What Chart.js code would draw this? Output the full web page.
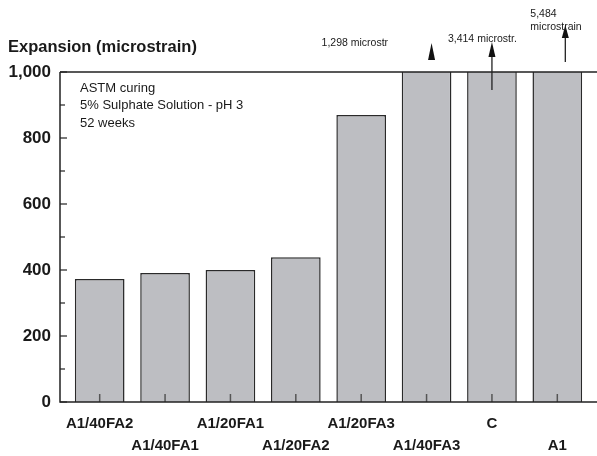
<!DOCTYPE html>
<html>
<head>
<meta charset="utf-8">
<script src="https://cdn.jsdelivr.net/npm/chart.js@4/dist/chart.umd.min.js"></script>
<style>
  html, body { margin: 0; padding: 0; background: #fff; }
  #wrap { width: 597px; height: 456px; }
</style>
</head>
<body>
<div id="wrap"><canvas id="chart" width="597" height="456"></canvas></div>
<script>
// data
const categories = ['A1/40FA2', 'A1/40FA1', 'A1/20FA1', 'A1/20FA2', 'A1/20FA3', 'A1/40FA3', 'C', 'A1'];
const expansion = [373, 391, 400, 439, 870, 1298, 3414, 5484];
const yTicks = [0, 200, 400, 600, 800, 1000];
const notes = ['ASTM curing', '5% Sulphate Solution - pH 3', '52 weeks'];

const FONT = '"Liberation Sans", Arial, sans-serif';
const INK = '#1a1a1a';

// axis frame, small ticks, title, notes and off-scale arrows
const decor = {
  id: 'decor',
  afterDatasetsDraw(chart) {
    const { ctx, chartArea: a, scales: { x, y } } = chart;
    const left = a.left - 7, right = chart.width;
    ctx.save();

    // category ticks inside the bars
    ctx.strokeStyle = '#555';
    ctx.lineWidth = 1.5;
    categories.forEach((c, i) => {
      const px = x.getPixelForTick(i);
      ctx.beginPath();
      ctx.moveTo(px, a.bottom);
      ctx.lineTo(px, a.bottom - 8);
      ctx.stroke();
    });

    // frame
    ctx.strokeStyle = '#222';
    ctx.lineWidth = 1.5;
    ctx.beginPath();
    ctx.moveTo(left, a.top);
    ctx.lineTo(right, a.top);
    ctx.moveTo(left, a.top);
    ctx.lineTo(left, a.bottom);
    ctx.lineTo(right, a.bottom);
    ctx.stroke();

    // y ticks, major and minor
    ctx.lineWidth = 1.2;
    yTicks.forEach((v, i) => {
      const py = y.getPixelForValue(v);
      ctx.beginPath();
      ctx.moveTo(left, py);
      ctx.lineTo(left + 7, py);
      ctx.stroke();
      if (i > 0) {
        const pm = y.getPixelForValue((v + yTicks[i - 1]) / 2);
        ctx.beginPath();
        ctx.moveTo(left, pm);
        ctx.lineTo(left + 5, pm);
        ctx.stroke();
      }
    });

    // axis title
    ctx.fillStyle = INK;
    ctx.textBaseline = 'middle';
    ctx.textAlign = 'left';
    ctx.font = 'bold 16.5px ' + FONT;
    ctx.fillText('Expansion (microstrain)', 8, a.top - 25);

    // condition notes
    ctx.font = '13px ' + FONT;
    notes.forEach((t, i) => ctx.fillText(t, a.left + 13, a.top + 16 + i * 17.5));

    // bars running off the scale
    const top = y.getPixelForValue(y.max);
    const arrow = (px, tip, headBase, tail) => {
      ctx.strokeStyle = '#222';
      ctx.lineWidth = 1.3;
      if (tail > headBase) {
        ctx.beginPath();
        ctx.moveTo(px, headBase);
        ctx.lineTo(px, tail);
        ctx.stroke();
      }
      ctx.fillStyle = '#111';
      ctx.beginPath();
      ctx.moveTo(px, tip);
      ctx.lineTo(px - 3.5, headBase);
      ctx.lineTo(px + 3.5, headBase);
      ctx.closePath();
      ctx.fill();
    };
    const fmt = v => v.toLocaleString('en-US');
    ctx.font = '10.5px ' + FONT;
    ctx.fillStyle = INK;

    let cx = x.getPixelForValue(5);
    arrow(cx + 5, top - 29, top - 12, top - 12);
    ctx.fillStyle = INK;
    ctx.fillText(fmt(expansion[5]) + ' microstr', cx - 105, top - 29);

    cx = x.getPixelForValue(6);
    arrow(cx, top - 30, top - 15, top + 18);
    ctx.fillStyle = INK;
    ctx.fillText(fmt(expansion[6]) + ' microstr.', cx - 44, top - 33);

    cx = x.getPixelForValue(7);
    arrow(cx + 8, top - 47, top - 34, top - 10);
    ctx.fillStyle = INK;
    ctx.fillText(fmt(expansion[7]), cx - 27, top - 58);
    ctx.fillText('microstrain', cx - 27, top - 45);

    ctx.restore();
  }
};

new Chart(document.getElementById('chart'), {
  type: 'bar',
  data: {
    labels: categories,
    datasets: [{
      data: expansion,
      backgroundColor: '#bdbec2',
      borderColor: '#2a2a2a',
      borderWidth: 1.5,
      borderSkipped: 'bottom',
      categoryPercentage: 1,
      barPercentage: 0.76
    }]
  },
  options: {
    responsive: false,
    animation: false,
    layout: { padding: { top: 72, right: 7, left: 0, bottom: 0 } },
    plugins: { legend: { display: false }, tooltip: { enabled: false } },
    scales: {
      x: {
        grid: { display: false, drawTicks: false },
        border: { display: false },
        afterFit(s) { s.height = 54; },
        ticks: {
          autoSkip: false,
          maxRotation: 0,
          padding: 11,
          color: INK,
          font: { family: FONT, size: 15, weight: 'bold', lineHeight: 1.47 },
          callback(v, i) {
            return i % 2 === 0 ? [categories[i], ''] : ['', categories[i]];
          }
        }
      },
      y: {
        min: 0,
        max: 1000,
        afterFit(s) { s.width = 67; },
        afterBuildTicks(s) { s.ticks = yTicks.map(v => ({ value: v })); },
        grid: { display: false, drawTicks: false },
        border: { display: false },
        ticks: {
          padding: 16,
          color: INK,
          font: { family: FONT, size: 17, weight: 'bold' }
        }
      }
    }
  },
  plugins: [decor]
});
</script>
</body>
</html>
